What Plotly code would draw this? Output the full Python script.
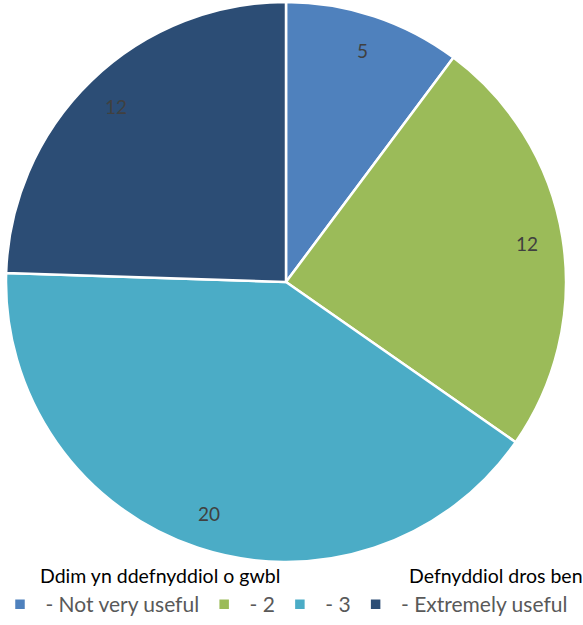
import math
import plotly.graph_objects as go

categories = [" - Not very useful", " - 2", " - 3", " - Extremely useful"]
values = [5, 12, 20, 12]
colors = ["#4F81BD", "#9BBB59", "#4BACC6", "#2C4D75"]
scale_left = "Ddim yn ddefnyddiol o gwbl"
scale_right = "Defnyddiol dros ben"

W, H = 583, 625
dom_x = [6 / W, 566 / W]
dom_y = [(H - 562) / H, (H - 2) / H]

fig = go.Figure(go.Pie(
    labels=categories, values=values, sort=False, direction="clockwise", rotation=0,
    marker=dict(colors=colors, line=dict(color="white", width=2.5)),
    textinfo="none", hoverinfo="label+value",
    domain=dict(x=dom_x, y=dom_y),
))

# data labels near outer edge (inside end), positioned from the values
total = sum(values)
cx = (dom_x[0] + dom_x[1]) / 2 * W
cy = (dom_y[0] + dom_y[1]) / 2 * H
R = min((dom_x[1] - dom_x[0]) * W, (dom_y[1] - dom_y[0]) * H) / 2 - 3
cum = 0
annotations = []
for v in values:
    mid = (cum + v / 2) / total * 2 * math.pi
    cum += v
    px = cx + 0.88 * R * math.sin(mid)
    py = cy + 0.88 * R * math.cos(mid)
    annotations.append(dict(x=px / W, y=py / H, xref="paper", yref="paper", text=str(v),
                            xanchor="center", yanchor="middle",
                            showarrow=False, font=dict(size=19, color="#404040",
                                                       family="Lato")))

annotations.append(dict(x=160 / W, y=1 - 575 / H, xref="paper", yref="paper", text=scale_left,
                        showarrow=False, xanchor="center", yanchor="middle",
                        font=dict(size=19.5, color="#000000", family="Lato")))
annotations.append(dict(x=496 / W, y=1 - 575 / H, xref="paper", yref="paper", text=scale_right,
                        showarrow=False, xanchor="center", yanchor="middle",
                        font=dict(size=19.5, color="#000000", family="Lato")))

fig.update_layout(
    width=W, height=H, margin=dict(l=0, r=0, t=0, b=0),
    paper_bgcolor="white", plot_bgcolor="white",
    annotations=annotations,
    showlegend=True,
    legend=dict(orientation="h", x=0.0, xanchor="left", y=0.0, yanchor="bottom",
                font=dict(size=21, color="#595959", family="Lato"),
                itemwidth=30, tracegroupgap=0, traceorder="normal"),
)

fig.write_html("out.html")
